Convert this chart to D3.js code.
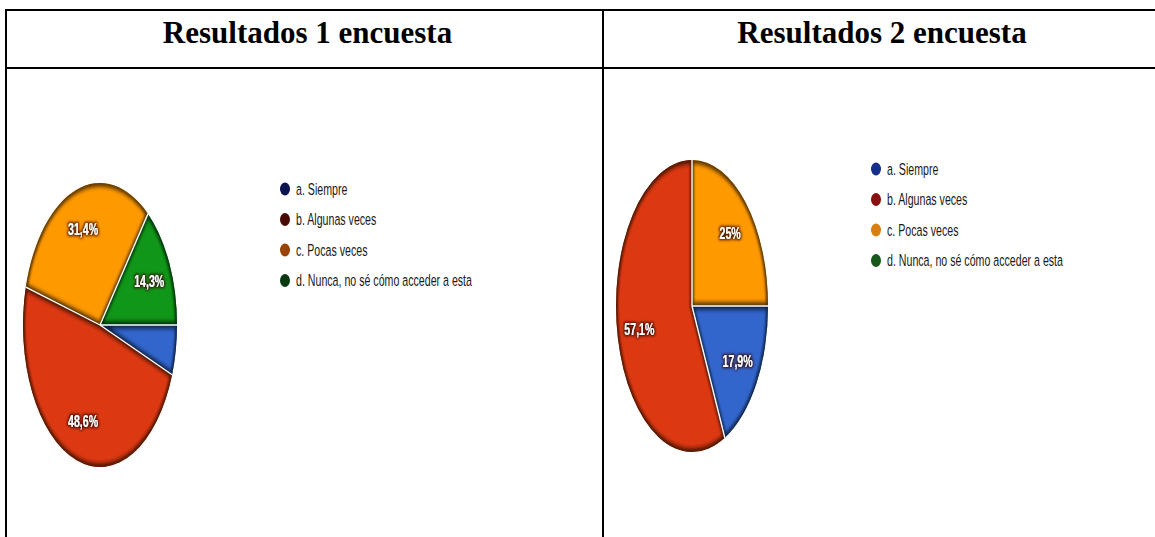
<!DOCTYPE html>
<html><head><meta charset="utf-8">
<script src="https://cdn.jsdelivr.net/npm/d3@7"></script>
<style>
html,body{margin:0;padding:0;background:#fff;}
svg{display:block;}
</style></head>
<body>
<svg id="chart" width="1155" height="537"></svg>
<script>
// ---- data ----
const categories = ["a. Siempre", "b. Algunas veces", "c. Pocas veces", "d. Nunca, no sé cómo acceder a esta"];
const titles = ["Resultados 1 encuesta", "Resultados 2 encuesta"];
const survey1 = [5.7, 48.6, 31.4, 14.3];
const survey2 = [17.9, 57.1, 25.0, 0];
const labels1 = ["", "48,6%", "31,4%", "14,3%"];
const labels2 = ["17,9%", "57,1%", "25%", ""];
const sliceColors = ["#3366cc", "#dc3912", "#ff9900", "#109618"];
const legendColors1 = ["#0b1650", "#4a0a04", "#9a4306", "#0c3a10"];
const legendColors2 = ["#142f8c", "#8a1010", "#d97f10", "#16591b"];

const narrow = "'Liberation Sans',Arial,sans-serif";
const svg = d3.select("#chart");
const defs = svg.append("defs");
const sf = defs.append("filter").attr("id","halo").attr("x","-30%").attr("y","-30%").attr("width","160%").attr("height","160%");
sf.append("feMorphology").attr("in","SourceAlpha").attr("operator","dilate").attr("radius",1).attr("result","d");
sf.append("feGaussianBlur").attr("in","d").attr("stdDeviation",1.2).attr("result","b");
sf.append("feFlood").attr("flood-color","#3a0800").attr("flood-opacity",0.9);
sf.append("feComposite").attr("in2","b").attr("operator","in").attr("result","s");
const fm = sf.append("feMerge");
fm.append("feMergeNode").attr("in","s");
fm.append("feMergeNode").attr("in","SourceGraphic");

const blur = defs.append("filter").attr("id","edgeblur").attr("x","-10%").attr("y","-10%").attr("width","120%").attr("height","120%");
blur.append("feGaussianBlur").attr("stdDeviation",1.5);

// ---- table ----
const tbl = svg.append("g").attr("stroke","#000").attr("stroke-width",2);
tbl.append("line").attr("x1",5).attr("x2",1155).attr("y1",10).attr("y2",10);
tbl.append("line").attr("x1",5).attr("x2",1155).attr("y1",68).attr("y2",68);
tbl.append("line").attr("x1",6).attr("x2",6).attr("y1",9).attr("y2",537);
tbl.append("line").attr("x1",603).attr("x2",603).attr("y1",9).attr("y2",537);

const colX = [[6,603],[603,1155]];
titles.forEach((t,i)=>{
  svg.append("text").attr("x",(colX[i][0]+colX[i][1])/2 + 3).attr("y",43)
    .attr("text-anchor","middle").attr("font-family","'Liberation Serif','Times New Roman',serif")
    .attr("font-weight","bold").attr("font-size",31).attr("fill","#000").text(t);
});

function drawPie(values, labels, cx, cy, rx, ry, id){
  const R = 100;
  const tf = `translate(${cx},${cy}) scale(${rx/R},${ry/R})`;
  const g = svg.append("g").attr("transform",tf);
  const pie = d3.pie().sort(null).value(d=>d).startAngle(Math.PI/2).endAngle(Math.PI/2 + 2*Math.PI);
  const arcs = pie(values);
  const arc = d3.arc().innerRadius(0).outerRadius(R);
  arcs.forEach((a,i)=>{
    if(a.value<=0) return;
    const cid = `clip${id}_${i}`;
    defs.append("clipPath").attr("id",cid).append("path").attr("d",arc(a)).attr("transform",tf);
    g.append("path").attr("d",arc(a)).attr("fill",sliceColors[i]);
    const c = d3.color(sliceColors[i]).darker(3);
    svg.append("g").attr("clip-path",`url(#${cid})`)
      .append("path").attr("d",arc(a)).attr("transform",tf)
      .attr("fill","none").attr("stroke",c).attr("stroke-width",5).attr("filter","url(#edgeblur)");
  });
  const sep = svg.append("g").attr("transform",tf);
  arcs.forEach((a,i)=>{
    if(a.value<=0) return;
    sep.append("line").attr("x1",0).attr("y1",0)
      .attr("x2",R*Math.sin(a.startAngle)).attr("y2",-R*Math.cos(a.startAngle))
      .attr("stroke","#fff").attr("stroke-width",1.4).attr("vector-effect","non-scaling-stroke");
  });
  arcs.forEach((a,i)=>{
    if(!labels[i]) return;
    const m = (a.startAngle+a.endAngle)/2, f = 0.71;
    const x = cx + rx*f*Math.sin(m), y = cy - ry*f*Math.cos(m)+6;
    svg.append("text").attr("transform",`translate(${x},${y}) scale(0.76,1.15)`)
      .attr("text-anchor","middle").attr("font-family",narrow).attr("font-weight","bold")
      .attr("font-size",14).attr("fill","#fff").attr("filter","url(#halo)").text(labels[i]);
  });
}
drawPie(survey1, labels1, 100, 325, 77, 142, "a");
drawPie(survey2, labels2, 692, 306, 76, 146, "b");

function drawLegend(x, y0, step, colors){
  categories.forEach((c,i)=>{
    const y = y0 + i*step;
    svg.append("ellipse").attr("cx",x).attr("cy",y).attr("rx",5).attr("ry",6.5).attr("fill",colors[i]);
    svg.append("text").attr("transform",`translate(${x+11},${y+5.5}) scale(0.76,1.15)`)
      .attr("font-family",narrow).attr("font-size",14).attr("fill","#1a1a1a").text(c);
  });
}
drawLegend(285, 189, 30.5, legendColors1);
drawLegend(876, 169, 30.5, legendColors2);
</script>
</body></html>
